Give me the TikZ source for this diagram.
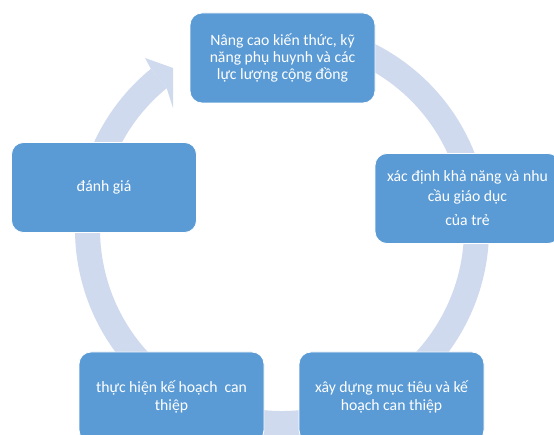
\documentclass[tikz,border=0pt]{standalone}
\usepackage{fontspec}
\setmainfont{Carlito}
\definecolor{boxblue}{RGB}{91,155,213}
\definecolor{ringblue}{RGB}{207,218,238}
\tikzset{
  stagebox/.style={rectangle, rounded corners=12pt, fill=boxblue, draw=white, line width=0.8pt,
    minimum width=185pt, minimum height=90pt, inner sep=0pt, align=center, text=white,
    font=\fontsize{15.7}{16.7}\selectfont},
  ringarc/.style={draw=ringblue, line width=25pt},
  ringhead/.style={fill=ringblue}
}
\begin{document}
\begin{tikzpicture}[x=1pt,y=1pt]
\useasboundingbox (0,0) rectangle (554,435);
\clip (0,0) rectangle (554,435);
\fill[white] (0,0) rectangle (554,435);
\coordinate (c) at (282,206);
% ring
\draw[ringarc] (c) ++(100:194.5) arc[start angle=100, end angle=-230.7, radius=194.5pt];
\fill[ringhead] (150.9,366.2) -- (145,377) -- (173,367) -- (173,327) -- (166.7,346.8) -- cycle;
% boxes
\node[stagebox] (top) at (282.5,377) {Nâng cao kiến thức, kỹ\\ năng phụ huynh và các\\ lực lượng cộng đồng};
\node[stagebox] (right) at (467.5,236.5) {xác định khả năng và nhu\\[3.3pt] cầu giáo dục\\[7.3pt] của trẻ};
\node[stagebox] (left) at (104,247.5) {đánh giá};
\node[stagebox] (bl) at (171.5,38) {thực hiện kế hoạch\ \ can\\[1.8pt] thiệp};
\node[stagebox] (br) at (391.5,38) {xây dựng mục tiêu và kế\\[1.3pt] hoạch can thiệp};
\end{tikzpicture}
\end{document}
